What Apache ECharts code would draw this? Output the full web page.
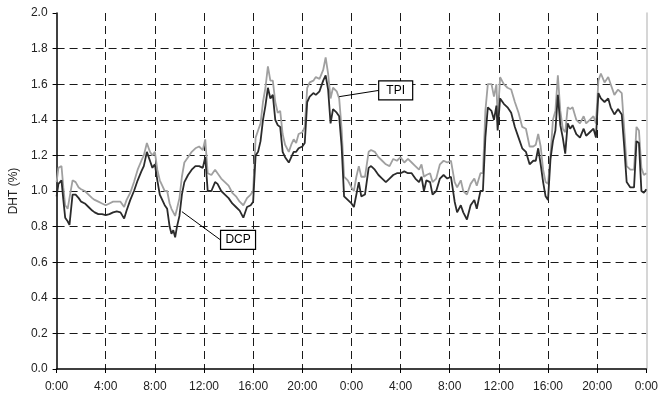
<!DOCTYPE html>
<html><head><meta charset="utf-8">
<script src="https://cdn.jsdelivr.net/npm/echarts@6/dist/echarts.min.js"></script>
<style>html,body{margin:0;padding:0;background:#fff}#c{width:661px;height:400px}</style>
</head><body><div id="c"></div>
<script>
// Time in hours since the first 0:00 (two days)
const hours = [0.0,0.15,0.4,0.55,0.7,0.9,1.05,1.3,1.55,1.8,2.0,2.3,2.6,2.9,3.1,3.4,3.7,4.0,4.3,4.6,4.9,5.2,5.5,5.7,6.0,6.3,6.6,6.9,7.1,7.35,7.6,7.8,8.0,8.2,8.4,8.6,8.8,9.0,9.2,9.35,9.5,9.65,9.8,10.0,10.2,10.4,10.7,11.0,11.3,11.6,11.9,12.1,12.3,12.6,12.9,13.1,13.4,13.7,14.0,14.3,14.6,14.9,15.2,15.5,15.8,16.0,16.2,16.4,16.6,16.8,17.0,17.2,17.4,17.6,17.8,18.0,18.2,18.4,18.6,18.9,19.1,19.3,19.5,19.7,20.0,20.2,20.4,20.6,20.9,21.1,21.4,21.7,21.9,22.1,22.3,22.5,22.8,23.0,23.2,23.4,23.7,24.0,24.2,24.4,24.6,24.8,25.1,25.4,25.6,25.9,26.2,26.5,26.8,27.1,27.4,27.7,28.0,28.3,28.6,28.9,29.2,29.5,29.7,29.9,30.1,30.4,30.6,30.9,31.2,31.5,31.8,32.1,32.4,32.6,32.9,33.1,33.4,33.7,34.0,34.2,34.5,34.7,34.9,35.1,35.4,35.6,35.8,35.9,36.1,36.4,36.7,37.0,37.3,37.6,37.9,38.2,38.5,38.8,39.0,39.2,39.4,39.6,39.8,40.0,40.2,40.4,40.6,40.8,41.0,41.2,41.4,41.6,41.8,42.0,42.3,42.6,42.9,43.1,43.4,43.7,43.9,44.1,44.3,44.6,44.9,45.1,45.4,45.7,46.0,46.2,46.4,46.7,47.0,47.2,47.4,47.6,47.8,48.0];
const tpi = [1.05,1.13,1.14,1.02,0.92,0.90,0.89,1.06,1.05,1.02,1.01,1.00,0.98,0.96,0.95,0.94,0.93,0.92,0.93,0.94,0.94,0.94,0.91,0.95,0.99,1.05,1.12,1.17,1.20,1.27,1.22,1.20,1.22,1.12,1.06,1.03,1.00,1.00,0.93,0.90,0.88,0.86,0.90,0.96,1.08,1.16,1.19,1.22,1.24,1.25,1.23,1.29,1.10,1.09,1.12,1.10,1.07,1.05,1.03,0.99,0.97,0.94,0.92,0.96,0.98,1.00,1.30,1.34,1.38,1.50,1.58,1.70,1.62,1.62,1.50,1.44,1.45,1.32,1.26,1.22,1.26,1.29,1.27,1.32,1.33,1.36,1.58,1.61,1.62,1.64,1.63,1.68,1.75,1.66,1.52,1.58,1.56,1.52,1.35,1.08,1.06,1.02,1.00,1.08,1.14,1.08,1.08,1.22,1.23,1.22,1.19,1.17,1.15,1.14,1.18,1.17,1.19,1.16,1.18,1.16,1.14,1.12,1.15,1.08,1.09,1.10,1.05,1.07,1.15,1.17,1.16,1.17,1.05,1.02,1.06,1.00,0.98,1.04,1.07,1.03,1.10,1.10,1.45,1.60,1.60,1.53,1.60,1.40,1.64,1.60,1.58,1.57,1.50,1.44,1.36,1.35,1.25,1.25,1.26,1.32,1.25,1.12,1.05,1.04,1.20,1.40,1.45,1.65,1.45,1.35,1.33,1.47,1.46,1.47,1.40,1.38,1.42,1.38,1.40,1.42,1.38,1.62,1.66,1.61,1.64,1.60,1.54,1.57,1.55,1.35,1.14,1.12,1.12,1.36,1.34,1.13,1.09,1.10];
const dcp = [0.97,1.04,1.06,0.95,0.85,0.83,0.81,0.98,0.98,0.96,0.94,0.93,0.91,0.89,0.88,0.87,0.87,0.865,0.87,0.88,0.885,0.88,0.845,0.89,0.95,1.00,1.06,1.11,1.14,1.22,1.17,1.13,1.15,1.06,0.98,0.95,0.92,0.90,0.80,0.76,0.78,0.74,0.80,0.86,0.98,1.05,1.09,1.12,1.14,1.14,1.13,1.19,1.00,1.00,1.05,1.04,1.00,0.98,0.96,0.93,0.91,0.89,0.85,0.91,0.92,0.94,1.20,1.22,1.28,1.40,1.48,1.58,1.52,1.54,1.40,1.37,1.36,1.22,1.19,1.16,1.19,1.22,1.22,1.24,1.25,1.27,1.50,1.53,1.55,1.54,1.56,1.62,1.65,1.57,1.38,1.46,1.44,1.42,1.25,0.97,0.95,0.93,0.91,0.98,1.05,0.97,0.98,1.13,1.14,1.12,1.09,1.07,1.05,1.07,1.09,1.10,1.10,1.11,1.10,1.10,1.07,1.05,1.08,1.00,1.06,1.05,0.98,1.00,1.07,1.09,1.07,1.08,0.94,0.88,0.92,0.88,0.84,0.92,0.95,0.90,1.00,1.00,1.30,1.47,1.45,1.40,1.48,1.34,1.52,1.49,1.47,1.44,1.36,1.30,1.24,1.22,1.15,1.17,1.17,1.24,1.15,1.05,0.97,0.95,1.18,1.28,1.34,1.54,1.37,1.30,1.21,1.38,1.35,1.37,1.32,1.30,1.35,1.31,1.33,1.35,1.30,1.55,1.52,1.50,1.52,1.47,1.43,1.46,1.43,1.25,1.05,1.02,1.02,1.28,1.27,1.00,0.99,1.01];
const xTickHours = [0,4,8,12,16,20,24,28,32,36,40,44,48];
const xTickLabels = ['0:00','4:00','8:00','12:00','16:00','20:00','0:00','4:00','8:00','12:00','16:00','20:00','0:00'];
const yName = 'DHT (%)';
const seriesNames = ['TPI','DCP'];

const FONT = '"Liberation Sans", Arial, sans-serif';
const chart = echarts.init(document.getElementById('c'), null, {renderer:'canvas'});
const dash = {color:'#1a1a1a', width:1, type:[8,5]};
chart.setOption({
  animation:false,
  backgroundColor:'#fff',
  textStyle:{fontFamily:FONT},
  grid:{left:55, right:13, top:13, bottom:31, containLabel:false},
  xAxis:{
    type:'value', min:0, max:48, interval:4,
    axisLine:{show:true, lineStyle:{color:'#000', width:1.5}},
    axisTick:{show:true, length:4, lineStyle:{color:'#000'}},
    axisLabel:{margin:12, color:'#222', fontSize:12, fontFamily:FONT,
      formatter:(v)=>{const i=xTickHours.indexOf(v); return i>=0?xTickLabels[i]:'';}},
    splitLine:{show:true, showMinLine:false, showMaxLine:false, lineStyle:dash}
  },
  yAxis:[{
    type:'value', min:0, max:2, interval:0.2,
    name:yName, nameLocation:'middle', nameGap:32, nameRotate:90,
    nameTextStyle:{color:'#222', fontSize:12, fontFamily:FONT},
    axisLine:{show:true, lineStyle:{color:'#000', width:1.5}},
    axisTick:{show:true, length:4, lineStyle:{color:'#000'}},
    axisLabel:{margin:9, color:'#222', fontSize:12, fontFamily:FONT, formatter:(v)=>v.toFixed(1)},
    splitLine:{show:true, showMinLine:false, showMaxLine:false, lineStyle:dash}
  },{
    type:'value', min:0, max:2, position:'right',
    axisLine:{show:true, lineStyle:{color:'#c8c8c8', width:1.5}},
    axisTick:{show:false}, axisLabel:{show:false}, splitLine:{show:false}
  }],
  series:[
    {name:seriesNames[0], type:'line', showSymbol:false, symbol:'none',
     data:hours.map((h,i)=>[h,tpi[i]]), lineStyle:{color:'#a0a0a0', width:1.8}, z:3},
    {name:seriesNames[1], type:'line', showSymbol:false, symbol:'none',
     data:hours.map((h,i)=>[h,dcp[i]]), lineStyle:{color:'#2b2b2b', width:1.8}, z:4}
  ]
});

// Callout labels anchored to data coordinates
function px(h,v){return chart.convertToPixel({xAxisIndex:0,yAxisIndex:0},[h,v]);}
function callout(text, boxC, target, w){
  const c = px(boxC[0], boxC[1]);
  const t = px(target[0], target[1]);
  const hgt = 19;
  const left = c[0]-w/2, top = c[1]-hgt/2;
  return [
    {type:'line', shape:{x1:left, y1:c[1], x2:t[0], y2:t[1]}, style:{stroke:'#000', lineWidth:1}, z:10},
    {type:'rect', shape:{x:left, y:top, width:w, height:hgt}, style:{fill:'#fff', stroke:'#000', lineWidth:1.2}, z:11},
    {type:'text', x:c[0], y:c[1], style:{text:text, fill:'#000', font:'12px '+FONT, align:'center', verticalAlign:'middle'}, z:12}
  ];
}
chart.setOption({graphic:[
  ...callout(seriesNames[0], [27.6, 1.565], [23.0, 1.53], 34),
  ...callout(seriesNames[1], [14.77, 0.725], [10.2, 0.884], 35)
]});
</script>
</body></html>
